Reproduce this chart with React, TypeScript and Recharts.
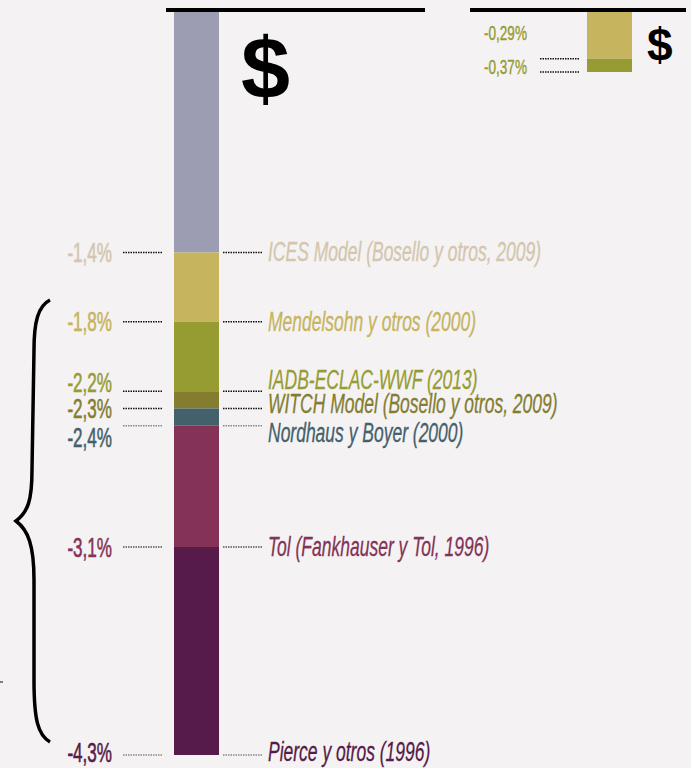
import { BarChart, Bar, XAxis, YAxis } from "recharts";

// costo estimado (% del PIB), valores acumulados de cada estudio
const studies = [
  "ICES Model (Bosello y otros, 2009)",
  "Mendelsohn y otros (2000)",
  "IADB-ECLAC-WWF (2013)",
  "WITCH Model (Bosello y otros, 2009)",
  "Nordhaus y Boyer (2000)",
  "Tol (Fankhauser y Tol, 1996)",
  "Pierce y otros (1996)",
];
const totals = [-1.4, -1.8, -2.2, -2.3, -2.4, -3.1, -4.3];
const tickLabels = ["-1,4%", "-1,8%", "-2,2%", "-2,3%", "-2,4%", "-3,1%", "-4,3%"];

const insetTotals = [-0.29, -0.37];
const insetLabels = ["-0,29%", "-0,37%"];

const fills = ["#9c9cb2", "#c6b45e", "#979c32", "#847d30", "#44606a", "#843256", "#561b48"];
const textColors = ["#d3c6ad", "#c6b45e", "#979c32", "#847d30", "#44606a", "#843256", "#561b48"];
const dotColors = ["#111", "#111", "#111", "#111", "#888", "#555", "#888"];
const leftShift = [0, 0, -8, 1, 12, 1, -2];
const rightShift = [-1, 0, -11, -4, 7, 0, -3];

const insetFills = ["#c6b45e", "#979c32"];
const insetShift = [-26, -5];

const FONT = "'Liberation Sans', Arial, sans-serif";

const mainRow: { [key: string]: any } = { name: "costo" };
totals.forEach((t, i) => {
  mainRow["s" + i] = i === 0 ? t : t - totals[i - 1];
});
const insetRow: { [key: string]: any } = { name: "inset" };
insetTotals.forEach((t, i) => {
  insetRow["s" + i] = i === 0 ? t : t - insetTotals[i - 1];
});

function mainLabel(i: number) {
  return (props: any) => {
    const x = Number(props.x);
    const w = Number(props.width);
    const y = Number(props.y);
    const h = Number(props.height);
    const bottom = Math.max(y, y + h);
    return (
      <g>
        <line x1={x - 51} x2={x - 12} y1={bottom} y2={bottom} stroke={dotColors[i]} strokeWidth={1.5} strokeDasharray="1.5 1" />
        <line x1={x + w + 4} x2={x + w + 43} y1={bottom} y2={bottom} stroke={dotColors[i]} strokeWidth={1.5} strokeDasharray="1.5 1" />
        <text
          transform={`translate(${x - 62},${bottom + leftShift[i] + 9}) scale(0.61,1)`}
          textAnchor="end"
          fill={textColors[i]}
          stroke={textColors[i]}
          strokeWidth={0.6}
          fontSize={28}
          fontFamily={FONT}
        >
          {tickLabels[i]}
        </text>
        <text
          transform={`translate(${x + w + 49},${bottom + rightShift[i] + 9}) scale(0.625,1)`}
          fill={textColors[i]}
          stroke={textColors[i]}
          strokeWidth={0.3}
          fontSize={28}
          fontStyle="italic"
          fontFamily={FONT}
        >
          {studies[i]}
        </text>
      </g>
    );
  };
}

function insetLabel(i: number) {
  return (props: any) => {
    const x = Number(props.x);
    const y = Number(props.y);
    const h = Number(props.height);
    const bottom = Math.max(y, y + h);
    return (
      <g>
        <line x1={x - 47} x2={x - 8} y1={bottom} y2={bottom} stroke="#111" strokeWidth={1.5} strokeDasharray="1.5 1" />
        <text
          transform={`translate(${x - 60},${bottom + insetShift[i] + 7}) scale(0.68,1)`}
          textAnchor="end"
          fill="#979c32"
          stroke="#979c32"
          strokeWidth={0.4}
          fontSize={20}
          fontFamily={FONT}
        >
          {insetLabels[i]}
        </text>
      </g>
    );
  };
}

export default function App() {
  return (
    <div style={{ position: "absolute", left: 0, top: 0, width: 691, height: 768, background: "#f4f2f3", overflow: "hidden" }}>
      <div style={{ position: "absolute", left: 0, top: 0 }}>
        <BarChart width={691} height={768} data={[mainRow]} margin={{ top: 10, right: 472, bottom: 13, left: 174 }} barCategoryGap={0}>
          <XAxis dataKey="name" hide />
          <YAxis hide domain={[-4.3, 0]} />
          {totals.map((_, i) => (
            <Bar key={i} dataKey={"s" + i} stackId="a" fill={fills[i]} isAnimationActive={false} label={mainLabel(i)} />
          ))}
        </BarChart>
      </div>
      <div style={{ position: "absolute", left: 440, top: 0 }}>
        <BarChart width={251} height={100} data={[insetRow]} margin={{ top: 11, right: 59, bottom: 28, left: 147 }} barCategoryGap={0}>
          <XAxis dataKey="name" hide />
          <YAxis hide domain={[-0.37, 0]} />
          {insetTotals.map((_, i) => (
            <Bar key={i} dataKey={"s" + i} stackId="a" fill={insetFills[i]} isAnimationActive={false} label={insetLabel(i)} />
          ))}
        </BarChart>
      </div>
      <svg width={691} height={768} style={{ position: "absolute", left: 0, top: 0, pointerEvents: "none" }}>
        <line x1={166} x2={425} y1={10} y2={10} stroke="#000" strokeWidth={4} />
        <line x1={470} x2={686} y1={10} y2={10} stroke="#000" strokeWidth={4} />
        <text x={241} y={99} fontSize={88} fontWeight="bold" fontFamily={FONT} fill="#000">$</text>
        <text x={647} y={61} fontSize={46} fontWeight="bold" fontFamily={FONT} fill="#000">$</text>
        <path
          d="M50,300 C38,306 34,322 34,350 L32,470 C32,500 28,512 16,521 C28,530 34,545 34,580 L34,680 C34,720 38,735 50,742"
          fill="none"
          stroke="#000"
          strokeWidth={3.5}
        />
        <line x1={0} x2={3} y1={682} y2={682} stroke="#44606a" strokeWidth={1.5} />
      </svg>
    </div>
  );
}
